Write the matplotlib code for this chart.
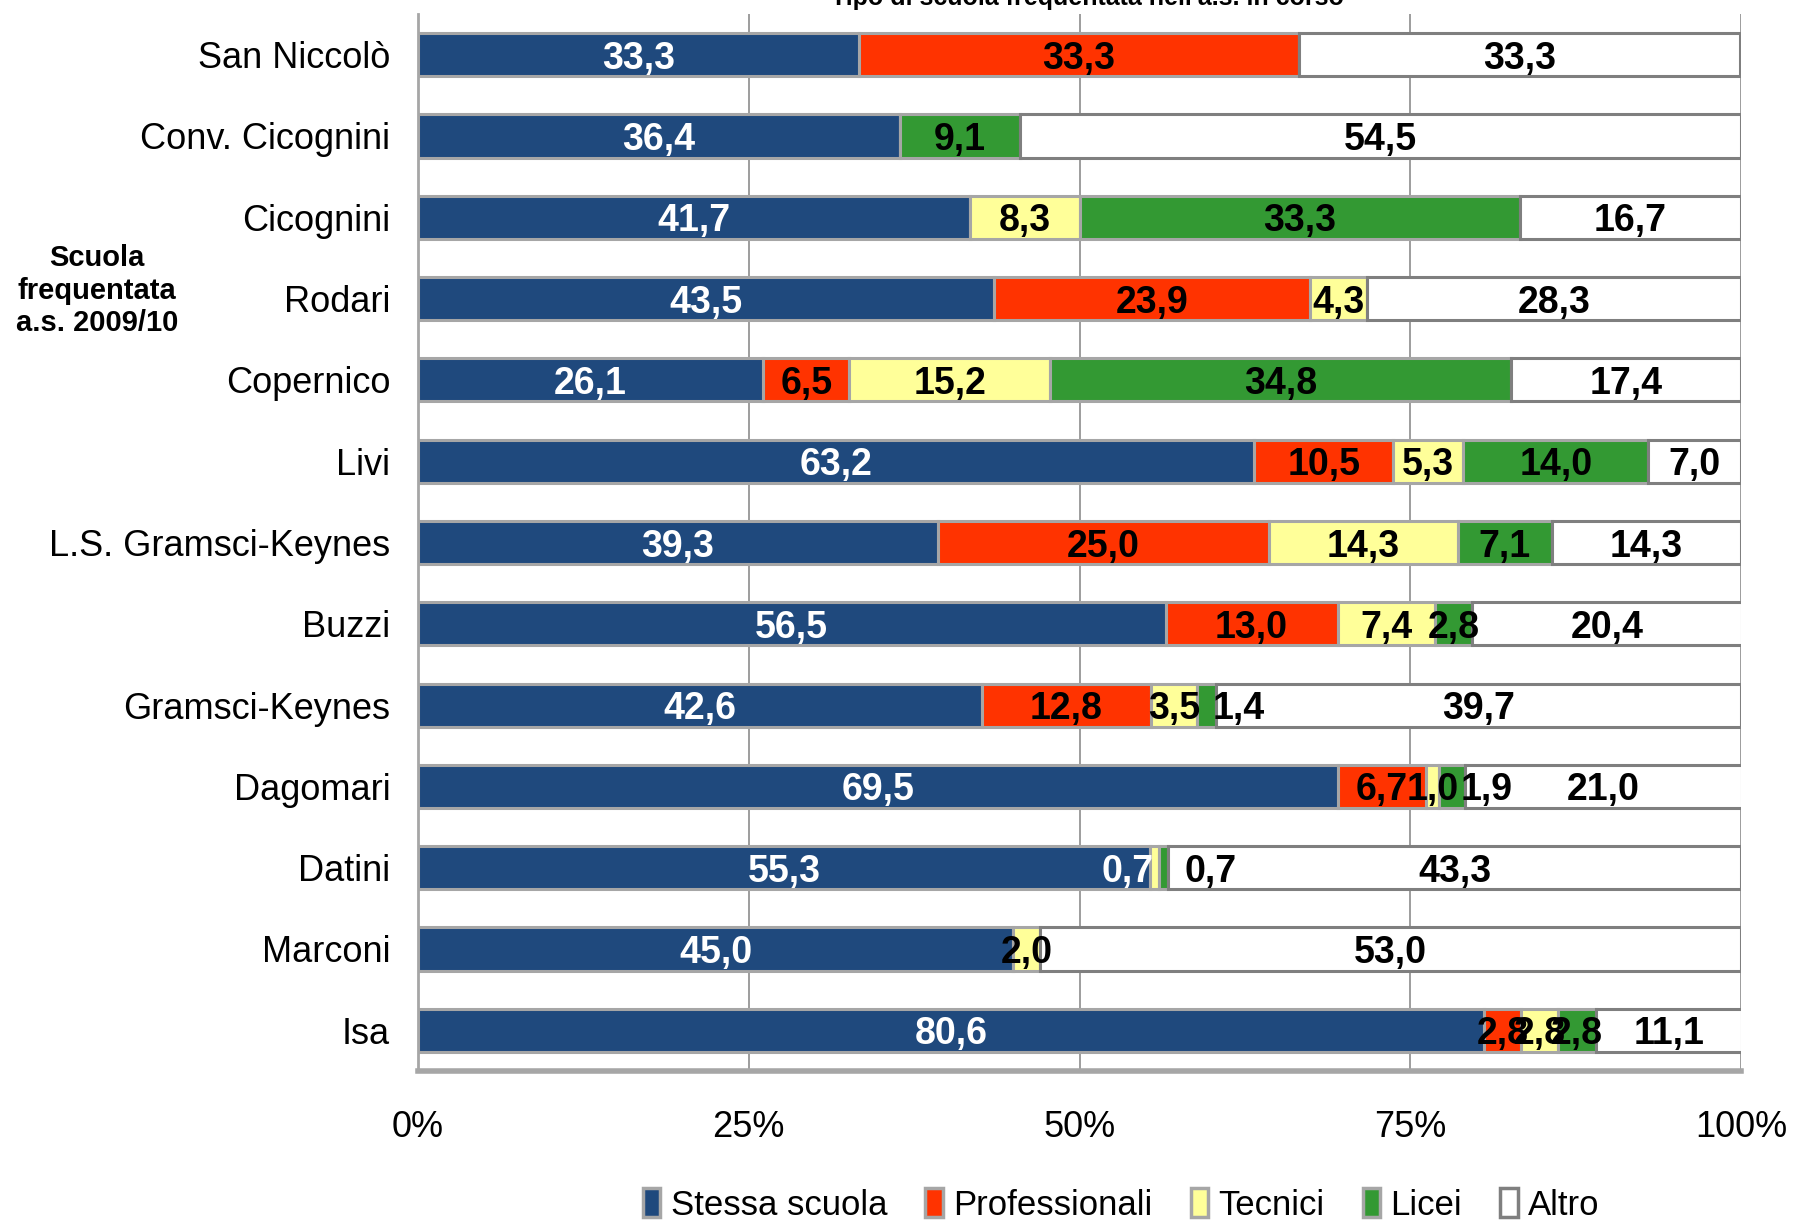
import numpy as np
import matplotlib
matplotlib.use("Agg")
import matplotlib.pyplot as plt
from matplotlib.patches import Patch

plt.rcParams['font.family'] = ['Liberation Sans', 'DejaVu Sans']

# data (percentuali per scuola)
scuole = ["San Niccolò", "Conv. Cicognini", "Cicognini", "Rodari", "Copernico", "Livi",
          "L.S. Gramsci-Keynes", "Buzzi", "Gramsci-Keynes", "Dagomari", "Datini",
          "Marconi", "Isa"]
serie = ["Stessa scuola", "Professionali", "Tecnici", "Licei", "Altro"]
stessa = [33.3, 36.4, 41.7, 43.5, 26.1, 63.2, 39.3, 56.5, 42.6, 69.5, 55.3, 45.0, 80.6]
profess = [33.3, 0.0, 0.0, 23.9, 6.5, 10.5, 25.0, 13.0, 12.8, 6.7, 0.0, 0.0, 2.8]
tecnici = [0.0, 0.0, 8.3, 4.3, 15.2, 5.3, 14.3, 7.4, 3.5, 1.0, 0.7, 2.0, 2.8]
licei = [0.0, 9.1, 33.3, 0.0, 34.8, 14.0, 7.1, 2.8, 1.4, 1.9, 0.7, 0.0, 2.8]
altro = [33.3, 54.5, 16.7, 28.3, 17.4, 7.0, 14.3, 20.4, 39.7, 21.0, 43.3, 53.0, 11.1]

colori = ["#1F497D", "#FF3300", "#FFFF99", "#339933", "#FFFFFF"]
bordi = ["#A6A6A6", "#A6A6A6", "#A6A6A6", "#A6A6A6", "#7F7F7F"]
col_testo = ["white", "black", "black", "black", "black"]

# spostamenti etichette piccole (in punti percentuali)
spost = {("Dagomari", 3): 2.6, ("Gramsci-Keynes", 3): 2.4,
         ("Datini", 2): -2.05, ("Datini", 3): 3.55}
testo_speciale = {("Datini", 2): "white"}

fig = plt.figure(figsize=(17.94, 12.21), dpi=100)
ax = fig.add_axes([0.233, 0.1229, 0.7375, 0.8656])

y = np.arange(len(scuole))
valori = [stessa, profess, tecnici, licei, altro]
left = np.zeros(len(scuole))
for k, vals in enumerate(valori):
    vals = np.array(vals)
    ax.barh(y, vals, left=left, height=0.53, color=colori[k], edgecolor=bordi[k],
            linewidth=2.2, zorder=3)
    for i, v in enumerate(vals):
        if v <= 0:
            continue
        c = testo_speciale.get((scuole[i], k), col_testo[k])
        xc = left[i] + v / 2 + spost.get((scuole[i], k), 0)
        ax.text(xc, y[i] + 0.05, f"{v:.1f}".replace(".", ","), ha="center", va="center",
                fontsize=27, fontweight="bold", color=c, zorder=5)
    left = left + vals

ax.set_xlim(0, 100)
ax.set_ylim(len(scuole) - 0.5, -0.5)
ax.set_yticks(y)
ax.set_yticklabels(scuole, fontsize=26)
ax.set_xticks([0, 25, 50, 75, 100])
ax.set_xticklabels(["0%", "25%", "50%", "75%", "100%"], fontsize=26)
ax.tick_params(axis="y", length=0, pad=20)
ax.tick_params(axis="x", length=0, pad=28)
ax.grid(axis="x", color="#8C8C8C", linewidth=1.2, zorder=0)
for s in ["top", "right"]:
    ax.spines[s].set_visible(False)
ax.spines["left"].set_color("#A6A6A6")
ax.spines["left"].set_linewidth(2)
ax.spines["bottom"].set_color("#A6A6A6")
ax.spines["bottom"].set_linewidth(4)

fig.text(0.054, 0.762, "Scuola\nfrequentata\na.s. 2009/10", ha="center", va="center",
         fontsize=21, fontweight="bold", linespacing=1.2)
fig.text(0.606, 1 - 5 / 1221, "Tipo di scuola frequentata nell'a.s. in corso", ha="center",
         va="baseline", fontsize=18, fontweight="bold")

maniglie = [Patch(facecolor=colori[k], edgecolor=bordi[k], linewidth=2.5, label=serie[k])
            for k in range(len(serie))]
fig.legend(handles=maniglie, loc="center", bbox_to_anchor=(0.625, 0.013), ncol=5,
           frameon=False, fontsize=25, handlelength=0.5, handleheight=0.9,
           handletextpad=0.3, columnspacing=1.1)

fig.savefig("out.png", dpi=100)
